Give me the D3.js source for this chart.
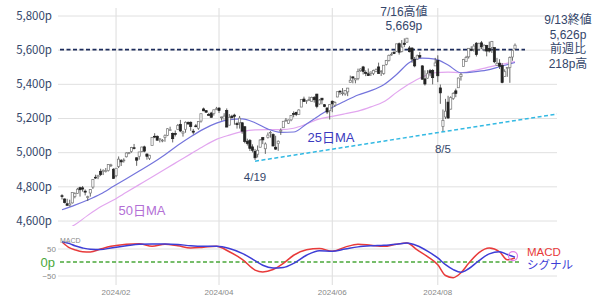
<!DOCTYPE html>
<html>
<head>
<meta charset="utf-8">
<script src="https://cdnjs.cloudflare.com/ajax/libs/d3/7.8.5/d3.min.js"></script>
<style>
  body { margin: 0; background: #fff; }
  svg { display: block; font-family: "Liberation Sans", "Noto Sans CJK JP", sans-serif; }
</style>
</head>
<body>
<div id="chart"></div>
<script>
// trading days (M/D), 2024
var dates = [
  "1/2","1/3","1/4","1/5","1/8","1/9","1/10","1/11","1/12","1/16","1/17","1/18","1/19","1/22","1/23","1/24","1/25","1/26","1/29","1/30","1/31",
  "2/1","2/2","2/5","2/6","2/7","2/8","2/9","2/12","2/13","2/14","2/15","2/16","2/20","2/21","2/22","2/23","2/26","2/27","2/28","2/29",
  "3/1","3/4","3/5","3/6","3/7","3/8","3/11","3/12","3/13","3/14","3/15","3/18","3/19","3/20","3/21","3/22","3/25","3/26","3/27","3/28",
  "4/1","4/2","4/3","4/4","4/5","4/8","4/9","4/10","4/11","4/12","4/15","4/16","4/17","4/18","4/19","4/22","4/23","4/24","4/25","4/26","4/29","4/30",
  "5/1","5/2","5/3","5/6","5/7","5/8","5/9","5/10","5/13","5/14","5/15","5/16","5/17","5/20","5/21","5/22","5/23","5/24","5/28","5/29","5/30","5/31",
  "6/3","6/4","6/5","6/6","6/7","6/10","6/11","6/12","6/13","6/14","6/17","6/18","6/20","6/21","6/24","6/25","6/26","6/27","6/28",
  "7/1","7/2","7/3","7/5","7/8","7/9","7/10","7/11","7/12","7/15","7/16","7/17","7/18","7/19","7/22","7/23","7/24","7/25","7/26","7/29","7/30","7/31",
  "8/1","8/2","8/5","8/6","8/7","8/8","8/9","8/12","8/13","8/14","8/15","8/16","8/19","8/20","8/21","8/22","8/23","8/26","8/27","8/28","8/29","8/30",
  "9/3","9/4","9/5","9/6","9/9","9/10","9/11","9/12","9/13"
];

var opens = [
  4745,4726,4698,4690,4703,4741,4759,4792,4791,4772,4739,4761,4796,4853,4856,4888,4887,4888,4892,4925,4900,
  4862,4917,4951,4951,4973,4996,5004,5026,4967,4976,5003,5031,4989,4964,5039,5093,5093,5074,5067,5086,
  5098,5131,5110,5109,5132,5163,5111,5134,5174,5175,5123,5154,5140,5182,5253,5243,5220,5229,5226,5249,
  5258,5205,5194,5244,5158,5211,5217,5167,5172,5172,5149,5064,5068,5031,5005,4988,5029,5085,5020,5085,5114,5103,
  5029,5050,5122,5143,5188,5169,5189,5226,5233,5221,5264,5311,5303,5306,5298,5320,5340,5282,5316,5278,5259,5243,
  5298,5275,5323,5357,5343,5341,5353,5409,5441,5423,5432,5477,5499,5466,5459,5461,5461,5473,5499,
  5471,5461,5514,5537,5572,5585,5591,5635,5590,5638,5644,5610,5609,5543,5545,5566,5505,5429,5433,5477,5478,5505,
  5537,5376,5151,5206,5293,5252,5314,5359,5377,5442,5501,5530,5558,5602,5603,5638,5603,5640,5602,5624,5607,5613,
  5612,5507,5521,5507,5443,5491,5496,5557,5605
];
var highs = [
  4754,4729,4727,4722,4764,4765,4791,4798,4802,4782,4745,4784,4842,4868,4866,4903,4899,4907,4929,4932,4906,
  4906,4975,4960,4964,4999,5000,5031,5048,4970,5002,5032,5038,4993,4984,5088,5111,5098,5081,5077,5104,
  5140,5149,5115,5127,5165,5189,5125,5180,5180,5180,5136,5165,5180,5225,5261,5246,5230,5236,5249,5265,
  5263,5208,5228,5256,5223,5219,5225,5178,5212,5175,5150,5079,5077,5046,5019,5039,5077,5089,5057,5115,5123,5110,
  5096,5069,5139,5181,5200,5191,5215,5239,5237,5251,5309,5325,5305,5325,5325,5328,5341,5311,5316,5282,5260,5280,
  5303,5298,5354,5362,5375,5361,5376,5448,5442,5432,5489,5490,5505,5479,5490,5472,5483,5490,5524,
  5479,5510,5540,5571,5584,5590,5635,5642,5656,5666,5669,5622,5615,5557,5571,5586,5509,5479,5480,5487,5486,5552,
  5567,5396,5250,5312,5330,5327,5351,5372,5436,5463,5546,5564,5609,5620,5633,5644,5641,5651,5631,5628,5647,5651,
  5612,5552,5544,5522,5485,5497,5560,5600,5636
];
var lows = [
  4723,4700,4687,4682,4699,4730,4757,4740,4769,4747,4714,4740,4785,4844,4842,4860,4866,4881,4887,4913,4845,
  4853,4907,4919,4939,4969,4988,4997,5016,4920,4956,4999,4999,4956,4954,5039,5082,5068,5057,5058,5061,
  5094,5127,5057,5092,5131,5117,5091,5114,5161,5125,5104,5146,5131,5173,5240,5230,5216,5203,5214,5246,
  5229,5185,5194,5146,5158,5197,5161,5138,5138,5108,5052,5039,5007,4998,4954,4969,5028,5047,4990,5080,5085,5035,
  5013,5008,5101,5143,5178,5165,5181,5204,5211,5219,5264,5297,5283,5299,5297,5290,5257,5278,5280,5263,5223,5191,
  5234,5265,5322,5336,5331,5331,5328,5408,5403,5403,5421,5471,5455,5445,5447,5446,5451,5468,5460,
  5446,5453,5508,5531,5565,5574,5586,5571,5584,5615,5640,5584,5523,5497,5542,5551,5425,5390,5430,5444,5397,5505,
  5410,5283,5119,5194,5195,5250,5306,5322,5377,5419,5501,5530,5548,5591,5589,5560,5598,5603,5590,5561,5583,5581,
  5521,5504,5487,5403,5442,5441,5406,5535,5601
];
var closes = [
  4743,4705,4689,4697,4764,4757,4783,4780,4784,4766,4739,4781,4840,4850,4865,4869,4894,4891,4928,4925,4846,
  4906,4959,4943,4954,4995,4998,5027,5022,4953,5001,5030,5006,4976,4982,5087,5089,5070,5078,5070,5096,
  5137,5131,5079,5105,5157,5124,5118,5175,5165,5150,5117,5149,5179,5225,5242,5234,5218,5204,5248,5254,
  5244,5206,5211,5147,5204,5202,5210,5161,5199,5123,5062,5051,5022,5011,4967,5011,5071,5072,5048,5100,5116,5036,
  5018,5064,5128,5181,5188,5188,5214,5223,5221,5247,5308,5297,5303,5308,5321,5307,5268,5305,5306,5267,5235,5278,
  5283,5291,5354,5353,5347,5361,5375,5421,5434,5432,5473,5487,5473,5465,5448,5469,5478,5483,5460,
  5475,5509,5537,5567,5573,5577,5634,5585,5615,5631,5667,5588,5545,5505,5564,5556,5427,5399,5459,5464,5436,5522,
  5447,5347,5186,5240,5200,5319,5344,5344,5434,5455,5543,5554,5608,5597,5621,5571,5635,5617,5626,5592,5592,5648,
  5529,5520,5503,5408,5471,5496,5554,5596,5626
];

// moving averages, read at every 5th trading day
var maIndex = [0,5,10,15,20,25,30,35,40,45,50,55,60,65,70,75,80,85,90,95,100,105,110,115,120,125,130,135,140,145,150,155,160,165,170,176];
var ma25 = [4663,4690,4720,4755,4800,4845,4890,4935,4985,5040,5090,5135,5170,5190,5195,5172,5135,5116,5118,5165,5215,5262,5300,5335,5360,5395,5455,5525,5550,5545,5510,5465,5470,5480,5500,5525];
var ma50 = [4535,4575,4630,4680,4720,4765,4810,4855,4900,4945,4990,5035,5075,5100,5120,5130,5132,5132,5140,5165,5195,5210,5225,5240,5265,5295,5350,5400,5440,5465,5468,5465,5478,5495,5512,5530];

// MACD / signal
var macdIndex = [0,3,5,8,11,15,19,25,30,35,40,45,50,55,60,65,70,75,78,82,86,90,95,100,105,110,115,120,125,130,134,138,142,146,149,152,155,158,162,166,170,173,176];
var macdLine = [74,52,45,38,37,48,58,66,68,58,66,60,52,55,58,38,10,-30,-37,-28,-5,25,45,50,40,55,66,62,58,66,70,45,20,-10,-50,-58,-40,-5,35,52,38,8,15];
var signalLine = [75,68,60,52,47,46,52,60,66,67,67,65,60,58,58,50,32,5,-12,-22,-20,-5,25,42,40,48,56,60,62,66,70,60,40,15,-10,-28,-38,-25,5,30,38,28,18];

var yTicks = [4600,4800,5000,5200,5400,5600,5800];
var monthTicks = ["2024/02","2024/04","2024/06","2024/08"];
var trendLine = [[75,4947],[193,5225]];

var width = 600, height = 300;
var svg = d3.select('#chart').append('svg')
    .attr('width', width)
    .attr('height', height);

var x = d3.scaleLinear().domain([0, dates.length - 1]).range([62, 515]);
var y = d3.scaleLinear().domain([4600, 5800]).range([220.5, 15.5]);
var yM = d3.scaleLinear().domain([-50, 50]).range([275.5, 248.5]);
var left = 58, right = 557;

// month grid
monthTicks.forEach(function (m) {
    var mon = +m.split('/')[1];
    var i = dates.findIndex(function (d) { return +d.split('/')[0] === mon; });
    svg.append('line')
        .attr('x1', x(i)).attr('x2', x(i))
        .attr('y1', 8).attr('y2', 285)
        .attr('stroke', '#dcdcdc').attr('stroke-width', 1);
    svg.append('text')
        .attr('x', x(i)).attr('y', 295)
        .attr('text-anchor', 'middle')
        .attr('font-size', 8).attr('fill', '#888')
        .text(m);
});

// price axis
var yAxis = svg.append('g')
    .attr('transform', 'translate(' + left + ',0)')
    .call(d3.axisLeft(y).tickValues(yTicks).tickSize(-(right - left)).tickPadding(6)
        .tickFormat(function (d) { return d3.format(',')(d) + 'p'; }));
yAxis.select('.domain').remove();
yAxis.selectAll('line').attr('stroke', '#e0e0e0');
yAxis.selectAll('text').attr('font-size', 11.5).attr('fill', '#34466a').attr('font-family', '"Noto Sans CJK JP", sans-serif');

// macd axis
var mAxis = svg.append('g')
    .attr('transform', 'translate(' + left + ',0)')
    .call(d3.axisLeft(yM).tickValues([50, -50]).tickSize(-(right - left)).tickPadding(2));
mAxis.select('.domain').remove();
mAxis.selectAll('line').attr('stroke', '#e0e0e0');
mAxis.selectAll('text').attr('font-size', 8).attr('fill', '#888');

svg.append('defs').append('clipPath').attr('id', 'plot')
    .append('rect').attr('x', left).attr('y', 5).attr('width', right - left).attr('height', 221);

var plot = svg.append('g').attr('clip-path', 'url(#plot)');

// 5,600 line
plot.append('line')
    .attr('x1', 60).attr('x2', 525)
    .attr('y1', y(5600)).attr('y2', y(5600))
    .attr('stroke', '#1d2c5c').attr('stroke-width', 1.6)
    .attr('stroke-dasharray', '4,2.5');

// moving averages
var maLine = d3.line()
    .x(function (d) { return x(d[0]); })
    .y(function (d) { return y(d[1]); })
    .curve(d3.curveMonotoneX);
plot.append('path')
    .attr('d', maLine(maIndex.map(function (i, k) { return [i, ma50[k]]; })))
    .attr('fill', 'none').attr('stroke', '#e2a6ef').attr('stroke-width', 1.2);
plot.append('path')
    .attr('d', maLine(maIndex.map(function (i, k) { return [i, ma25[k]]; })))
    .attr('fill', 'none').attr('stroke', '#7474dc').attr('stroke-width', 1.2);

// candles
var candles = plot.selectAll('g.candle')
    .data(dates)
    .enter().append('g').attr('class', 'candle');
candles.append('line')
    .attr('x1', function (d, i) { return x(i); })
    .attr('x2', function (d, i) { return x(i); })
    .attr('y1', function (d, i) { return y(highs[i]); })
    .attr('y2', function (d, i) { return y(lows[i]); })
    .attr('stroke', '#555').attr('stroke-width', 0.9);
candles.append('rect')
    .attr('x', function (d, i) { return x(i) - 1.1; })
    .attr('width', 2.2)
    .attr('y', function (d, i) { return y(Math.max(opens[i], closes[i])); })
    .attr('height', function (d, i) { return Math.max(0.8, Math.abs(y(opens[i]) - y(closes[i]))); })
    .attr('fill', function (d, i) { return closes[i] >= opens[i] ? '#fff' : '#222'; })
    .attr('stroke', function (d, i) { return closes[i] >= opens[i] ? '#777' : '#222'; })
    .attr('stroke-width', 0.7);

// trend line
plot.append('line')
    .attr('x1', x(trendLine[0][0])).attr('y1', y(trendLine[0][1]))
    .attr('x2', x(trendLine[1][0])).attr('y2', y(trendLine[1][1]))
    .attr('stroke', '#33b9e3').attr('stroke-width', 1.5)
    .attr('stroke-dasharray', '4,2.5');

// macd panel
svg.append('line')
    .attr('x1', 60).attr('x2', 520)
    .attr('y1', yM(0)).attr('y2', yM(0))
    .attr('stroke', '#4aa83a').attr('stroke-width', 1.5)
    .attr('stroke-dasharray', '4,2.5');
var mLine = d3.line()
    .x(function (d) { return x(d[0]); })
    .y(function (d) { return yM(d[1]); })
    .curve(d3.curveMonotoneX);
svg.append('path')
    .attr('d', mLine(macdIndex.map(function (i, k) { return [i, macdLine[k]]; })))
    .attr('fill', 'none').attr('stroke', '#e83a3a').attr('stroke-width', 1.5);
svg.append('path')
    .attr('d', mLine(macdIndex.map(function (i, k) { return [i, signalLine[k]]; })))
    .attr('fill', 'none').attr('stroke', '#3d3dd6').attr('stroke-width', 1.5);
svg.append('circle')
    .attr('cx', x(macdIndex[macdIndex.length - 1]) - 2).attr('cy', yM(22))
    .attr('r', 4.5).attr('fill', 'none').attr('stroke', '#e27ce6').attr('stroke-width', 1.2);

// labels
function label(tx, px, py, size, color, anchor) {
    svg.append('text')
        .attr('x', px).attr('y', py)
        .attr('text-anchor', anchor || 'middle')
        .attr('font-size', size).attr('fill', color)
        .text(tx);
}
label('MACD', 60, 243, 7, '#888', 'start');
label('0p', 55, yM(0) + 4.5, 13, '#4aa83a', 'end');
label('MACD', 527, 255.5, 11.5, '#e83a3a', 'start');
label('シグナル', 527, 268.5, 11.5, '#3d3dd6', 'start');

var i416 = dates.indexOf('7/16'), i419 = dates.indexOf('4/19'), i85 = dates.indexOf('8/5'), iLast = dates.length - 1;
label(dates[i416] + '高値', x(i416) - 3, 16, 12, '#34466a');
label(d3.format(',')(highs[i416]) + 'p', x(i416) - 3, 30, 12, '#34466a');
label(dates[i419], x(i419), 181, 11.5, '#34466a');
label(dates[i85], x(i85), 153, 11.5, '#34466a');
label(dates[iLast] + '終値', 568, 24, 12, '#34466a');
label(d3.format(',')(closes[iLast]) + 'p', 568, 38.5, 12, '#34466a');
label('前週比', 568, 53, 12, '#34466a');
label((closes[iLast] - closes[dates.indexOf('9/6')]) + 'p高', 568, 67.5, 12, '#34466a');
label('25日MA', 331, 142, 13, '#3b3bc0');
label('50日MA', 142, 215, 13, '#b36fd6');
</script>
</body>
</html>
